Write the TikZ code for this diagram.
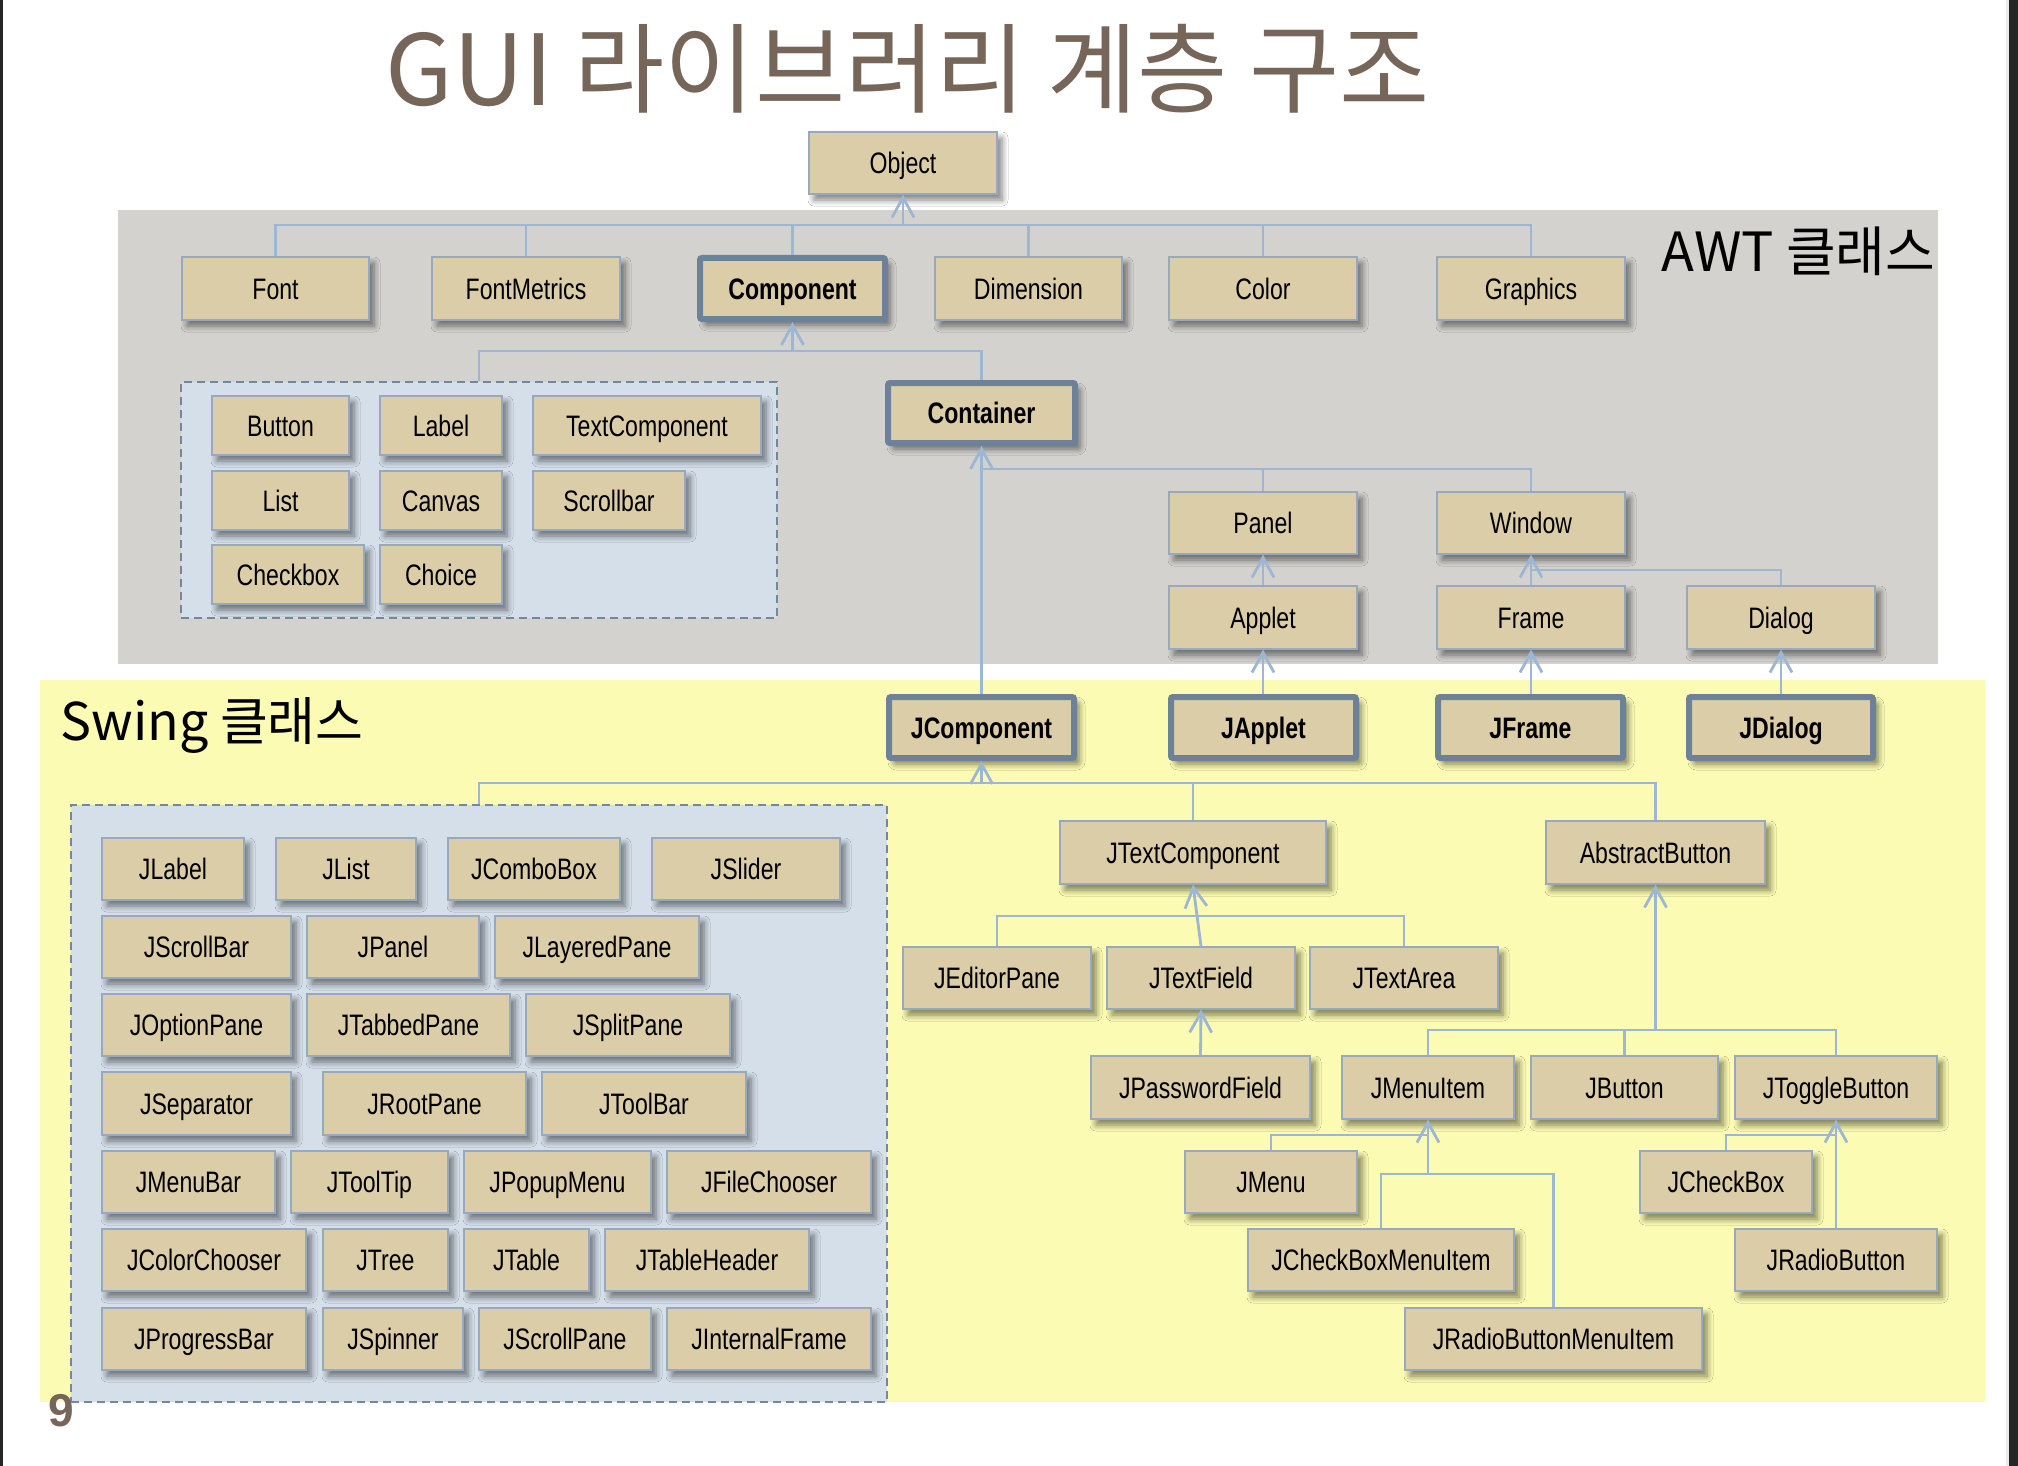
\documentclass[tikz,border=0pt]{standalone}
\usepackage{fontspec}
\newfontfamily\boxfont{Liberation Sans}[FakeStretch=0.78]
\newfontfamily\numfont{Liberation Sans}
\newfontfamily\krfont{Noto Sans CJK KR}
\usetikzlibrary{arrows.meta,shadows.blur}
\definecolor{tanfill}{HTML}{DCCDA9}
\definecolor{boxedge}{HTML}{97A9BF}
\definecolor{boldedge}{HTML}{6D8298}
\definecolor{linecol}{HTML}{9DB6D3}
\definecolor{graypanel}{HTML}{D3D2CF}
\definecolor{yellowpanel}{HTML}{FCFBB3}
\definecolor{grpfill}{HTML}{D5DFEA}
\definecolor{grpedge}{HTML}{74889D}
\definecolor{titlecol}{HTML}{766559}
\tikzset{
  cls/.style={draw=boxedge, line width=0.6pt, fill=tanfill, inner sep=0pt,
    font=\boxfont\fontsize{14.8}{17}\selectfont, text height=10.6pt, text depth=0pt,
    blur shadow={shadow xshift=2.5pt, shadow yshift=-3pt, shadow blur steps=6, shadow blur radius=3pt, shadow opacity=50}},
  boldcls/.style={cls, draw=boldedge, line width=3pt, rounded corners=1pt,
    font=\boxfont\bfseries\fontsize{14.8}{17}\selectfont},
  grp/.style={draw=grpedge, fill=grpfill, dashed, dash pattern=on 4pt off 2.5pt, line width=0.8pt, inner sep=0pt},
  conn/.style={draw=linecol, line width=1.4pt},
  arr/.style={conn, -{Straight Barb[length=10pt,width=11pt]}},
}
\newcommand{\bx}[6]{%
  \node[cls,minimum width={(#4-#2)*0.5pt},minimum height={(#5-#3)*0.5pt}] (#1) at ({(#2+#4)/2},{(#3+#5)/2}) {#6};}
\newcommand{\bbx}[6]{%
  \node[boldcls,minimum width={(#4-#2-6)*0.5pt},minimum height={(#5-#3-6)*0.5pt}] (#1) at ({(#2+#4)/2},{(#3+#5)/2}) {#6};}
\newcommand{\grpbox}[5]{%
  \node[grp,minimum width={(#4-#2)*0.5pt},minimum height={(#5-#3)*0.5pt}] (#1) at ({(#2+#4)/2},{(#3+#5)/2}) {};}
\begin{document}
\begin{tikzpicture}[x=0.5pt,y=-0.5pt]
\useasboundingbox (0,0) rectangle (2018,1466);
\fill[white] (0,0) rectangle (2018,1466);
% page borders
\fill[black!85] (0,0) rectangle (3,1466);
\fill[black!8] (2006,0) rectangle (2009,1466);
\fill[black!85] (2009,0) rectangle (2018,1466);
% panels
\fill[graypanel] (118,210) rectangle (1938,664);
\fill[yellowpanel] (40,680) rectangle (1985,1402);
% title and labels
\node[font=\krfont\fontsize{49}{54}\selectfont, text=titlecol, anchor=base] (title) at (908,106) {GUI 라이브러리 계층 구조};
\node[font=\krfont\fontsize{27}{30}\selectfont, anchor=base west, inner sep=0pt] (awtlabel) at (1661,271) {AWT 클래스};
\node[font=\krfont\fontsize{26}{30}\selectfont, anchor=base west, inner sep=0pt] (swinglabel) at (60,740) {Swing 클래스};
% groups
\grpbox{awtgrp}{181}{382}{777}{618}
\grpbox{swgrp}{71}{805}{887}{1402}
\node[font=\numfont\bfseries\fontsize{23}{26}\selectfont, text=titlecol, anchor=base west, inner sep=0pt] (pagenum) at (48,1426) {9};
% AWT
\bx{obj}{809}{132}{997}{194}{Object}
\bx{font}{182}{257}{369}{320}{Font}
\bx{fontm}{432}{257}{620}{320}{FontMetrics}
\bbx{comp}{697}{255}{888}{322}{Component}
\bx{dim}{935}{257}{1122}{320}{Dimension}
\bx{color}{1169}{257}{1357}{320}{Color}
\bx{graph}{1437}{257}{1625}{320}{Graphics}
\bx{button}{212}{396}{349}{455}{Button}
\bx{label}{380}{396}{502}{455}{Label}
\bx{textcomp}{533}{396}{761}{455}{TextComponent}
\bx{list}{212}{471}{349}{530}{List}
\bx{canvas}{380}{471}{502}{530}{Canvas}
\bx{scrollbar}{533}{471}{685}{530}{Scrollbar}
\bx{checkbox}{212}{545}{364}{604}{Checkbox}
\bx{choice}{380}{545}{502}{604}{Choice}
\bbx{cont}{885}{380}{1078}{446}{Container}
\bx{panel}{1169}{492}{1357}{554}{Panel}
\bx{win}{1437}{492}{1625}{554}{Window}
\bx{applet}{1169}{586}{1357}{649}{Applet}
\bx{frame}{1437}{586}{1625}{649}{Frame}
\bx{dialog}{1687}{586}{1875}{649}{Dialog}
% Swing top
\bbx{jcomp}{886}{694}{1077}{761}{JComponent}
\bbx{japplet}{1168}{694}{1359}{761}{JApplet}
\bbx{jframe}{1435}{694}{1626}{761}{JFrame}
\bbx{jdialog}{1686}{694}{1876}{761}{JDialog}
% Swing group
\bx{jlabel}{102}{838}{244}{900}{JLabel}
\bx{jlist}{276}{838}{416}{900}{JList}
\bx{jcombo}{448}{838}{620}{900}{JComboBox}
\bx{jslider}{652}{838}{840}{900}{JSlider}
\bx{jscrollbar}{102}{916}{291}{978}{JScrollBar}
\bx{jpanel}{307}{916}{479}{978}{JPanel}
\bx{jlayered}{495}{916}{699}{978}{JLayeredPane}
\bx{joption}{102}{994}{291}{1056}{JOptionPane}
\bx{jtabbed}{307}{994}{510}{1056}{JTabbedPane}
\bx{jsplit}{526}{994}{730}{1056}{JSplitPane}
\bx{jsep}{102}{1072}{291}{1135}{JSeparator}
\bx{jroot}{323}{1072}{526}{1135}{JRootPane}
\bx{jtoolbar}{542}{1072}{746}{1135}{JToolBar}
\bx{jmenubar}{102}{1151}{275}{1213}{JMenuBar}
\bx{jtooltip}{291}{1151}{448}{1213}{JToolTip}
\bx{jpopup}{464}{1151}{651}{1213}{JPopupMenu}
\bx{jfile}{667}{1151}{871}{1213}{JFileChooser}
\bx{jcolor}{102}{1229}{306}{1291}{JColorChooser}
\bx{jtree}{323}{1229}{448}{1291}{JTree}
\bx{jtable}{464}{1229}{589}{1291}{JTable}
\bx{jtablehdr}{605}{1229}{809}{1291}{JTableHeader}
\bx{jprogress}{102}{1308}{306}{1370}{JProgressBar}
\bx{jspinner}{323}{1308}{463}{1370}{JSpinner}
\bx{jscrollpane}{479}{1308}{651}{1370}{JScrollPane}
\bx{jinternal}{667}{1308}{871}{1370}{JInternalFrame}
% Swing hierarchy
\bx{jtc}{1060}{821}{1326}{884}{JTextComponent}
\bx{abtn}{1546}{821}{1765}{884}{AbstractButton}
\bx{jep}{903}{947}{1091}{1009}{JEditorPane}
\bx{jtf}{1107}{947}{1295}{1009}{JTextField}
\bx{jta}{1310}{947}{1498}{1009}{JTextArea}
\bx{jpf}{1091}{1056}{1310}{1119}{JPasswordField}
\bx{jmi}{1342}{1056}{1514}{1119}{JMenuItem}
\bx{jbtn}{1531}{1056}{1718}{1119}{JButton}
\bx{jtb}{1735}{1056}{1937}{1119}{JToggleButton}
\bx{jmenu}{1185}{1151}{1357}{1213}{JMenu}
\bx{jcb}{1640}{1151}{1812}{1213}{JCheckBox}
\bx{jcbmi}{1248}{1229}{1514}{1291}{JCheckBoxMenuItem}
\bx{jrb}{1735}{1229}{1937}{1291}{JRadioButton}
\bx{jrbmi}{1405}{1308}{1702}{1370}{JRadioButtonMenuItem}
% bus levels
\coordinate (yObj) at (0,225);
\coordinate (yComp) at (0,351);
\coordinate (yCont) at (0,469);
\coordinate (yWin) at (0,570);
\coordinate (yJC) at (0,783);
\coordinate (yJTC) at (0,916);
\coordinate (yAB) at (0,1030);
\coordinate (yMI) at (0,1135);
\coordinate (yMI2) at (0,1174);
% connectors: Object
\draw[conn] (font.north) -- (font.north |- yObj) -- (graph.north |- yObj) -- (graph.north);
\foreach \n in {fontm,comp,dim,color} \draw[conn] (\n.north) -- (\n.north |- yObj);
\draw[arr] (obj.south |- yObj) -- (obj.south);
% Component
\draw[conn] (awtgrp.north) -- (awtgrp.north |- yComp) -- (cont.north |- yComp) -- (cont.north);
\draw[arr] (comp.south |- yComp) -- (comp.south);
% Container
\draw[conn] (cont.south |- yCont) -- (win.north |- yCont) -- (win.north);
\draw[conn] (panel.north) -- (panel.north |- yCont);
\draw[arr] (jcomp.north) -- (cont.south);
\draw[arr] (applet.north) -- (panel.south);
\draw[arr] (frame.north) -- (win.south);
\draw[conn] (dialog.north) -- (dialog.north |- yWin) -- (win.south |- yWin);
\draw[arr] (applet.south |- japplet.north) -- (applet.south);
\draw[arr] (frame.south |- jframe.north) -- (frame.south);
\draw[arr] (dialog.south |- jdialog.north) -- (dialog.south);
% JComponent
\draw[conn] (swgrp.north) -- (swgrp.north |- yJC) -- (abtn.north |- yJC) -- (abtn.north);
\draw[conn] (jtc.north) -- (jtc.north |- yJC);
\draw[arr] (jcomp.south |- yJC) -- (jcomp.south);
% JTextComponent
\draw[conn] (jep.north) -- (jep.north |- yJTC) -- (jta.north |- yJTC) -- (jta.north);
\draw[arr] (jtf.north) -- (jtc.south);
\draw[arr] (jpf.north) -- (jtf.south);
% AbstractButton
\draw[conn] (jmi.north) -- (jmi.north |- yAB) -- (jtb.north |- yAB) -- (jtb.north);
\draw[conn] (jbtn.north) -- (jbtn.north |- yAB);
\draw[arr] (abtn.south |- yAB) -- (abtn.south);
% JMenuItem
\draw[conn] (jmenu.north) -- (jmenu.north |- yMI) -- (jmi.south |- yMI);
\draw[arr] (jmi.south |- yMI2) -- (jmi.south);
\draw[conn] (jcbmi.north) -- (jcbmi.north |- yMI2) -- (jrbmi.north |- yMI2) -- (jrbmi.north);
% JToggleButton
\draw[conn] (jcb.north) -- (jcb.north |- yMI) -- (jtb.south |- yMI);
\draw[arr] (jrb.north) -- (jtb.south);
\end{tikzpicture}
\end{document}
